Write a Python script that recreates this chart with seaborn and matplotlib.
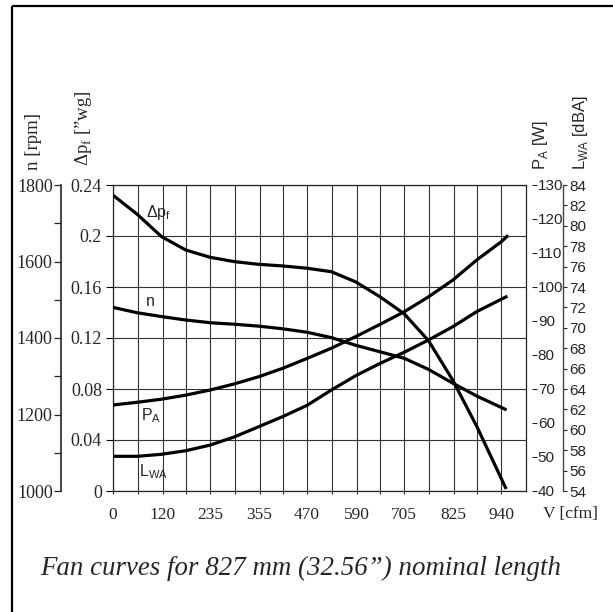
import matplotlib
matplotlib.use("Agg")
import matplotlib.pyplot as plt
from matplotlib.lines import Line2D
import seaborn as sns
import numpy as np

# ---------------- data ----------------
x_tick_values = [0, 120, 235, 355, 470, 590, 705, 825, 940]
x_tick_labels = ["0", "120", "235", "355", "470", "590", "705", "825", "940"]

# pressure drop  Δpf ["wg]
dp_cfm = [0, 58.75, 117.5, 176.25, 235, 293.75, 352.5, 411.25, 470, 528.75,
          587.5, 646.25, 705, 763.75, 822.5, 881.25, 952]
dp_val = [0.232, 0.217, 0.1995, 0.189, 0.1833, 0.1799, 0.1778, 0.1765, 0.1747, 0.172,
          0.164, 0.1524, 0.139, 0.118, 0.087, 0.0504, 0.0016]

# speed n [rpm]
n_cfm = [0, 58.75, 117.5, 176.25, 235, 293.75, 352.5, 411.25, 470, 528.75,
         587.5, 646.25, 705, 763.75, 822.5, 881.25, 953]
n_val = [1480, 1466, 1456, 1447, 1440, 1436, 1431, 1424, 1415, 1401,
         1381, 1364, 1347, 1318, 1282, 1248, 1212]

# power P_A [W]
pa_cfm = [0, 58.75, 117.5, 176.25, 235, 293.75, 352.5, 411.25, 470, 528.75,
          587.5, 646.25, 705, 763.75, 822.5, 881.25, 940, 957]
pa_val = [65.3, 66.1, 67.0, 68.2, 69.7, 71.5, 73.6, 76.1, 79.0, 82.0,
          85.4, 89.0, 92.7, 97.1, 102.0, 108.0, 113.3, 115.2]

# sound power L_WA [dBA]
lwa_cfm = [0, 58.75, 117.5, 176.25, 235, 293.75, 352.5, 411.25, 470, 528.75,
           587.5, 646.25, 705, 763.75, 822.5, 881.25, 955]
lwa_val = [57.4, 57.4, 57.6, 57.95, 58.5, 59.3, 60.3, 61.3, 62.4, 63.9,
           65.3, 66.5, 67.6, 68.8, 70.1, 71.6, 73.1]

dp_ticks = [0, 0.04, 0.08, 0.12, 0.16, 0.2, 0.24]
dp_tick_labels = ["0", "0.04", "0.08", "0.12", "0.16", "0.2", "0.24"]
n_ticks = [1000, 1200, 1400, 1600, 1800]
n_minor = [1100, 1300, 1500, 1700]
pa_ticks = [40, 50, 60, 70, 80, 90, 100, 110, 120, 130]
lwa_ticks = list(range(54, 85, 2))

caption = "Fan curves for 827 mm (32.56\u201d) nominal length"

# ---------------- style ----------------
sns.set_style("white")
SERIF = ["Liberation Serif", "DejaVu Serif"]
NARROW = ["Liberation Sans Narrow", "Liberation Sans", "DejaVu Sans"]
SANS = ["Liberation Sans", "DejaVu Sans"]
plt.rcParams["font.family"] = SERIF
plt.rcParams["mathtext.fontset"] = "custom"
plt.rcParams["mathtext.rm"] = "Liberation Serif"
plt.rcParams["lines.solid_joinstyle"] = "round"
plt.rcParams["lines.solid_capstyle"] = "butt"

W, H = 613, 612
fig = plt.figure(figsize=(W / 100, H / 100), dpi=100)
fig.patch.set_facecolor("white")

px = lambda v: v / W
py = lambda v: 1 - v / H

L, R, T, B = 113, 526, 185, 491
ax = fig.add_axes([px(L), py(B), (R - L) / W, (B - T) / H])
ax.set_facecolor("white")

XMAX = 1000
LW = 2.3
col = "black"

# main axis: Δpf
sns.lineplot(x=dp_cfm, y=dp_val, ax=ax, color=col, linewidth=LW)
ax.set_xlim(0, XMAX)
ax.set_ylim(0, 0.24)
ax.set_yticks(dp_ticks)
ax.set_yticklabels(dp_tick_labels, fontsize=13, family=SERIF)
ax.set_xticks(x_tick_values)
ax.set_xticklabels(x_tick_labels, fontsize=12.5, family=SERIF)
ax.set_xticks([(a + b) / 2 for a, b in zip(x_tick_values[:-1], x_tick_values[1:])], minor=True)
ax.tick_params(axis="y", direction="out", length=5, width=0.8, pad=3, left=True, color="black")
ax.tick_params(axis="x", which="both", direction="out", length=2.5, width=0.8, pad=9, bottom=True)
ax.grid(True, which="both", axis="x", color="#333333", linewidth=0.8)
ax.grid(True, which="major", axis="y", color="#333333", linewidth=0.8)
for s in ax.spines.values():
    s.set_color("#222222")
    s.set_linewidth(0.9)
ax.set_xlabel("")
ax.set_ylabel("")

# n axis (outer left)
ax_n = ax.twinx()
sns.lineplot(x=n_cfm, y=n_val, ax=ax_n, color=col, linewidth=LW)
ax_n.set_ylim(1000, 1800)
ax_n.yaxis.set_label_position("left")
ax_n.yaxis.tick_left()
ax_n.spines["left"].set_position(("axes", (61 - L) / (R - L)))
ax_n.spines["left"].set_visible(True)
ax_n.spines["left"].set_linewidth(1.2)
ax_n.spines["right"].set_visible(False)
ax_n.spines["top"].set_visible(False)
ax_n.spines["bottom"].set_visible(False)
ax_n.set_yticks(n_ticks)
ax_n.set_yticklabels([str(v) for v in n_ticks], fontsize=13, family=SERIF)
ax_n.set_yticks(n_minor, minor=True)
ax_n.tick_params(axis="y", which="both", direction="out", length=5, width=0.9, pad=1)
ax_n.grid(False)
ax_n.set_ylabel("")
ax_n.set_xlim(0, XMAX)

# P_A axis (right)
ax_pa = ax.twinx()
sns.lineplot(x=pa_cfm, y=pa_val, ax=ax_pa, color=col, linewidth=LW)
ax_pa.set_ylim(40, 130)
ax_pa.spines["right"].set_position(("outward", 4))
for s in ax_pa.spines.values():
    s.set_visible(False)
ax_pa.set_yticks(pa_ticks)
ax_pa.set_yticklabels([str(v) for v in pa_ticks], fontsize=11, family=NARROW)
ax_pa.tick_params(axis="y", direction="out", length=3.5, width=0.8, pad=1)
ax_pa.grid(False)
ax_pa.set_ylabel("")
ax_pa.set_xlim(0, XMAX)

# L_WA axis (outer right)
ax_l = ax.twinx()
sns.lineplot(x=lwa_cfm, y=lwa_val, ax=ax_l, color=col, linewidth=LW)
ax_l.set_ylim(54, 84)
ax_l.spines["right"].set_position(("axes", (562.7 - L) / (R - L)))
ax_l.spines["right"].set_visible(True)
ax_l.spines["right"].set_linewidth(1.0)
ax_l.spines["right"].set_color("#444444")
for k in ("left", "top", "bottom"):
    ax_l.spines[k].set_visible(False)
ax_l.set_yticks(lwa_ticks)
ax_l.set_yticklabels([str(v) for v in lwa_ticks], fontsize=11, family=NARROW)
ax_l.tick_params(axis="y", direction="out", length=3, width=0.8, pad=1.5)
ax_l.grid(False)
ax_l.set_ylabel("")
ax_l.set_xlim(0, XMAX)

# curve labels
def afr(xp, yp):
    return ((xp - L) / (R - L), (B - yp) / (B - T))

for txt, (xp, yp) in [("\u0394p$_\\mathregular{f}$", (158, 213)), ("n", (150, 302)),
                      ("P$_\\mathregular{A}$", (151, 416)), ("L$_\\mathregular{WA}$", (154, 472))]:
    ax.text(*afr(xp, yp), txt, transform=ax.transAxes, ha="center", va="center",
            fontsize=11.5, family=SANS)

# axis titles
fig.text(px(33), py(170), "n [rpm]", rotation=90, ha="center", va="bottom", fontsize=13.5, family=SERIF)
fig.text(px(84), py(166), "\u0394p$_\\mathregular{f}$ [\u201dwg]", rotation=90, ha="center", va="bottom",
         fontsize=13.5, family=SERIF)
fig.text(px(540), py(170), "P$_\\mathregular{A}$ [W]", rotation=90, ha="center", va="bottom",
         fontsize=12, family=NARROW)
fig.text(px(580), py(170), "L$_\\mathregular{WA}$ [dBA]", rotation=90, ha="center", va="bottom",
         fontsize=12, family=NARROW)
fig.text(px(570), py(514), "V [cfm]", ha="center", va="center", fontsize=12.5, family=SERIF)

# caption
fig.text(px(301), py(568), caption, ha="center", va="center", fontsize=19.4, style="italic", family=SERIF)

# frame lines of the page
fig.add_artist(Line2D([px(12), px(12)], [py(6), py(612)], color="black", linewidth=1.6))
fig.add_artist(Line2D([px(12), px(613)], [py(6), py(6)], color="black", linewidth=1.6))

fig.savefig("out.png", dpi=100, facecolor="white")
